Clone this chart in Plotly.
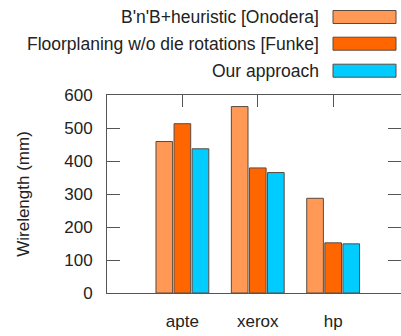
import plotly.graph_objects as go

categories = ["apte", "xerox", "hp"]
series_names = ["B'n'B+heuristic [Onodera]",
                "Floorplaning w/o die rotations [Funke]",
                "Our approach"]
onodera = [459, 565, 287]
funke = [513, 379, 152]
ours = [437, 365, 149]
series_values = [onodera, funke, ours]
colors = ["#FF9955", "#FF6600", "#00CCFF"]
y_ticks = [0, 100, 200, 300, 400, 500, 600]

W, H = 401, 336
L, R, T, B = 107, 0, 95, 43
pw, ph = W - L - R, H - T - B

def px(x):
    return (x - L) / pw

def py(y):
    return (H - B - y) / ph

FONT = "Liberation Sans, Arial, sans-serif"
TXT = "#222222"
AX = "#555555"
EDGE = "#5a4a40"

fig = go.Figure()
for name, vals, col in zip(series_names, series_values, colors):
    fig.add_trace(go.Bar(x=categories, y=vals, name=name,
                         marker=dict(color=col, line=dict(color=EDGE, width=1)),
                         showlegend=False, xaxis="x", yaxis="y"))

fig.update_layout(
    width=W, height=H,
    margin=dict(l=L, r=R, t=T, b=B),
    paper_bgcolor="white", plot_bgcolor="white",
    font=dict(family=FONT, size=17, color=TXT),
    barmode="group", bargap=0.28, bargroupgap=0.08,
    xaxis=dict(type="category", categoryarray=categories, range=[-1, 2.9],
               showline=True, linecolor=AX, linewidth=1, ticks="",
               showgrid=False, zeroline=False, ticklabelstandoff=13,
               tickfont=dict(size=17)),
    xaxis2=dict(overlaying="x", side="top", anchor="y", range=[-1, 2.9],
                tickvals=[0, 1, 2], showticklabels=False, ticks="inside",
                ticklen=12, tickcolor=AX, showline=True, linecolor=AX,
                linewidth=1, showgrid=False, zeroline=False),
    yaxis=dict(range=[0, 600], tickvals=y_ticks, ticks="inside", ticklen=13,
               tickcolor=AX, showline=True, linecolor=AX, linewidth=1,
               showgrid=False, zeroline=False, tickfont=dict(size=17),
               ticklabelstandoff=10,
               title=dict(text="Wirelength (mm)", font=dict(size=17), standoff=30)),
    yaxis2=dict(overlaying="y", side="right", anchor="x", range=[0, 600],
                tickvals=y_ticks, ticks="inside", ticklen=13, tickcolor=AX,
                showticklabels=False, showline=False, showgrid=False,
                zeroline=False),
)
fig.add_trace(go.Scatter(x=[None], y=[None], xaxis="x2", yaxis="y2",
                         showlegend=False, hoverinfo="skip"))

# legend drawn as text + swatches (text left of swatches like gnuplot)
legend_y = [17, 43.7, 70.7]
for name, col, yc in zip(series_names, colors, legend_y):
    fig.add_annotation(xref="paper", yref="paper", x=px(321), y=py(yc),
                       text=name, showarrow=False, xanchor="right",
                       yanchor="middle", font=dict(size=17.5, color=TXT))
    fig.add_shape(type="rect", xref="paper", yref="paper",
                  x0=px(333), x1=px(396), y0=py(yc - 6.5), y1=py(yc + 6.5),
                  fillcolor=col, line=dict(color=EDGE, width=1))

fig.write_html("out.html")
